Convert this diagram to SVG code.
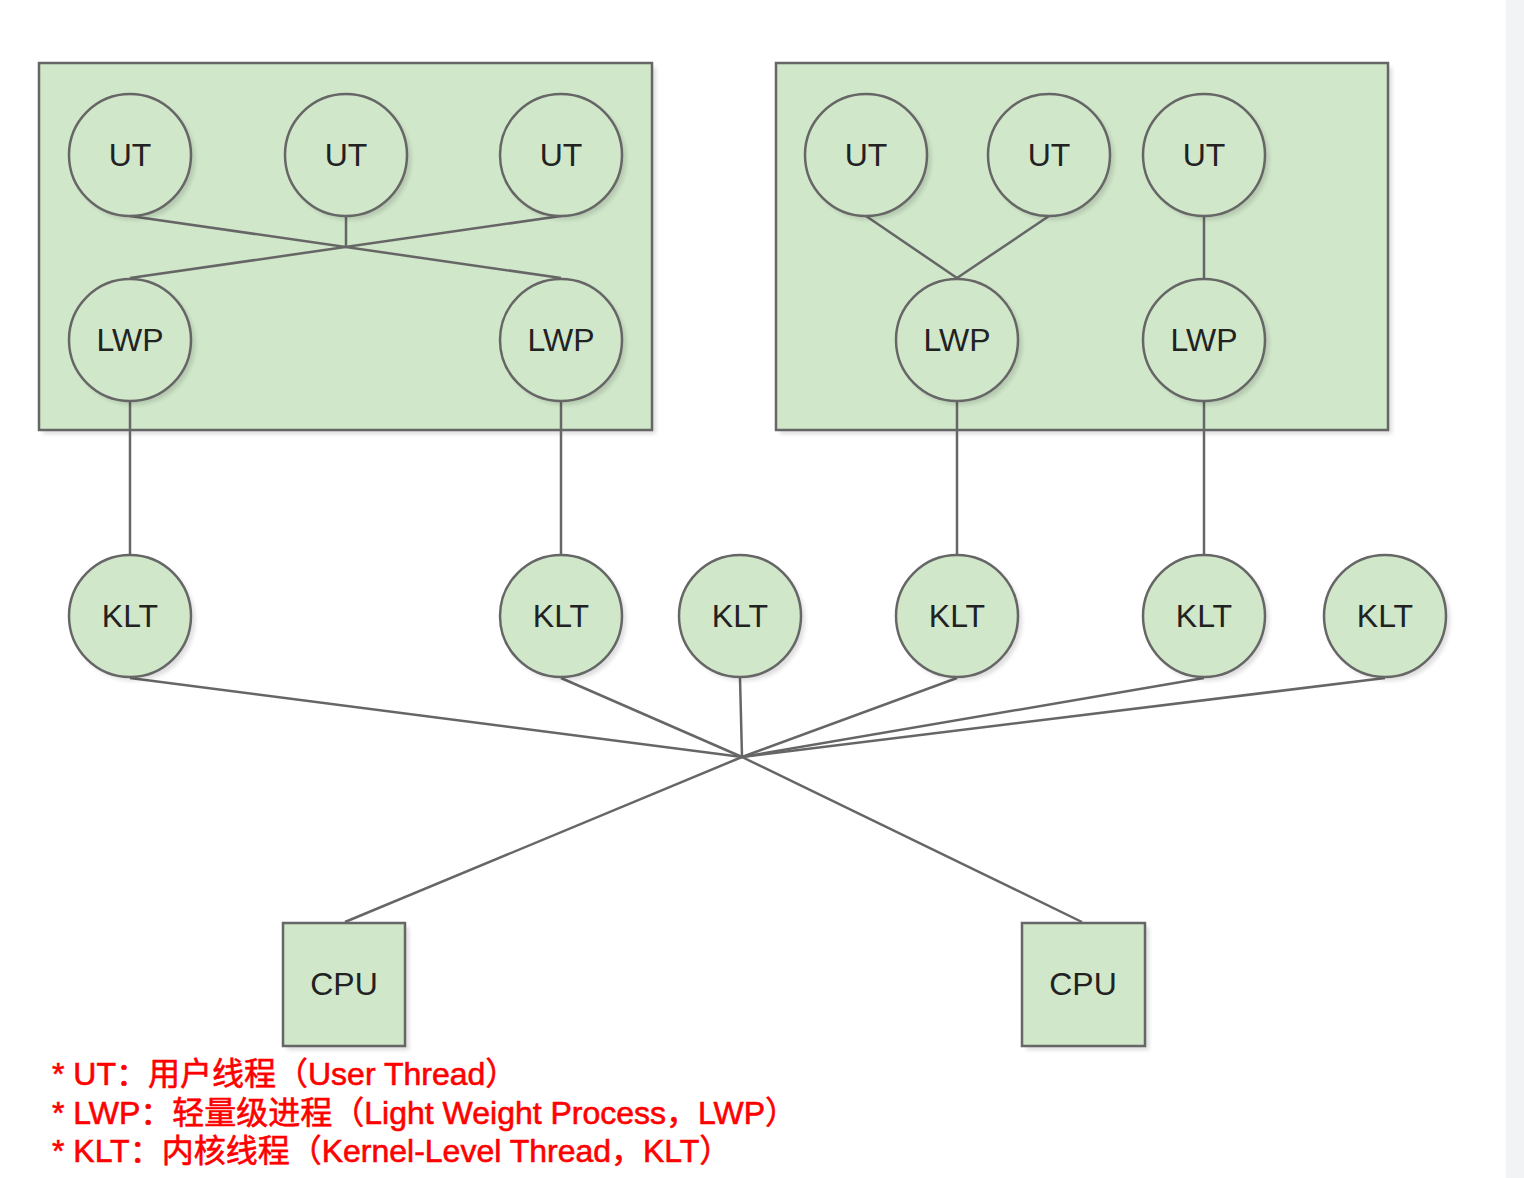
<svg xmlns="http://www.w3.org/2000/svg" width="1524" height="1178" viewBox="0 0 1524 1178">
<defs>
<style>
.shape{fill:#d0e7ca;stroke:#666;stroke-width:2.5}
.sh{fill:#000;opacity:0.13;filter:url(#blur)}
.lbl{font-family:"Liberation Sans",Arial,sans-serif;font-size:32px;fill:#222;text-anchor:middle}
.conn line{stroke:#666;stroke-width:2.5;fill:none}
.legend{font-family:"Liberation Sans","Noto Sans CJK SC",sans-serif;font-size:32px;fill:#ff0000;stroke:#ff0000;stroke-width:0.6}
</style>
<filter id="blur" x="-20%" y="-20%" width="140%" height="140%"><feGaussianBlur stdDeviation="2"/></filter>
</defs>
<rect x="0" y="0" width="1524" height="1178" fill="#fff"/>
<rect x="1506" y="0" width="18" height="1178" fill="#f2f3f5"/>

<g id="process1">
<rect class="sh" x="43" y="67" width="613" height="367"/>
<rect class="shape" x="39" y="63" width="613" height="367"/>
</g>
<g id="process2">
<rect class="sh" x="780" y="67" width="612" height="367"/>
<rect class="shape" x="776" y="63" width="612" height="367"/>
</g>

<g class="conn" id="connectors">
<line x1="130" y1="216" x2="561" y2="278"/>
<line x1="561" y1="216" x2="130" y2="278"/>
<line x1="346" y1="216" x2="346" y2="247"/>
<line x1="866" y1="216" x2="957" y2="278"/>
<line x1="1049" y1="216" x2="957" y2="278"/>
<line x1="1204" y1="216" x2="1204" y2="278"/>
<line x1="130" y1="402" x2="130" y2="554"/>
<line x1="561" y1="402" x2="561" y2="554"/>
<line x1="957" y1="402" x2="957" y2="554"/>
<line x1="1204" y1="402" x2="1204" y2="554"/>
<line x1="130" y1="678" x2="742" y2="757"/>
<line x1="561" y1="678" x2="742" y2="757"/>
<line x1="740" y1="678" x2="742" y2="757"/>
<line x1="957" y1="678" x2="742" y2="757"/>
<line x1="1204" y1="678" x2="742" y2="757"/>
<line x1="1385" y1="678" x2="742" y2="757"/>
<line x1="742" y1="757" x2="345" y2="922"/>
<line x1="742" y1="757" x2="1082" y2="922"/>
</g>

<g id="ut1"><circle class="sh" cx="134" cy="159" r="61"/><circle class="shape" cx="130" cy="155" r="61"/><text class="lbl" x="130" y="166">UT</text></g>
<g id="ut2"><circle class="sh" cx="350" cy="159" r="61"/><circle class="shape" cx="346" cy="155" r="61"/><text class="lbl" x="346" y="166">UT</text></g>
<g id="ut3"><circle class="sh" cx="565" cy="159" r="61"/><circle class="shape" cx="561" cy="155" r="61"/><text class="lbl" x="561" y="166">UT</text></g>
<g id="ut4"><circle class="sh" cx="870" cy="159" r="61"/><circle class="shape" cx="866" cy="155" r="61"/><text class="lbl" x="866" y="166">UT</text></g>
<g id="ut5"><circle class="sh" cx="1053" cy="159" r="61"/><circle class="shape" cx="1049" cy="155" r="61"/><text class="lbl" x="1049" y="166">UT</text></g>
<g id="ut6"><circle class="sh" cx="1208" cy="159" r="61"/><circle class="shape" cx="1204" cy="155" r="61"/><text class="lbl" x="1204" y="166">UT</text></g>

<g id="lwp1"><circle class="sh" cx="134" cy="344" r="61"/><circle class="shape" cx="130" cy="340" r="61"/><text class="lbl" x="130" y="351">LWP</text></g>
<g id="lwp2"><circle class="sh" cx="565" cy="344" r="61"/><circle class="shape" cx="561" cy="340" r="61"/><text class="lbl" x="561" y="351">LWP</text></g>
<g id="lwp3"><circle class="sh" cx="961" cy="344" r="61"/><circle class="shape" cx="957" cy="340" r="61"/><text class="lbl" x="957" y="351">LWP</text></g>
<g id="lwp4"><circle class="sh" cx="1208" cy="344" r="61"/><circle class="shape" cx="1204" cy="340" r="61"/><text class="lbl" x="1204" y="351">LWP</text></g>

<g id="klt1"><circle class="sh" cx="134" cy="620" r="61"/><circle class="shape" cx="130" cy="616" r="61"/><text class="lbl" x="130" y="627">KLT</text></g>
<g id="klt2"><circle class="sh" cx="565" cy="620" r="61"/><circle class="shape" cx="561" cy="616" r="61"/><text class="lbl" x="561" y="627">KLT</text></g>
<g id="klt3"><circle class="sh" cx="744" cy="620" r="61"/><circle class="shape" cx="740" cy="616" r="61"/><text class="lbl" x="740" y="627">KLT</text></g>
<g id="klt4"><circle class="sh" cx="961" cy="620" r="61"/><circle class="shape" cx="957" cy="616" r="61"/><text class="lbl" x="957" y="627">KLT</text></g>
<g id="klt5"><circle class="sh" cx="1208" cy="620" r="61"/><circle class="shape" cx="1204" cy="616" r="61"/><text class="lbl" x="1204" y="627">KLT</text></g>
<g id="klt6"><circle class="sh" cx="1389" cy="620" r="61"/><circle class="shape" cx="1385" cy="616" r="61"/><text class="lbl" x="1385" y="627">KLT</text></g>

<g id="cpu1"><rect class="sh" x="287" y="927" width="122" height="123"/><rect class="shape" x="283" y="923" width="122" height="123"/><text class="lbl" x="344" y="995">CPU</text></g>
<g id="cpu2"><rect class="sh" x="1026" y="927" width="123" height="123"/><rect class="shape" x="1022" y="923" width="123" height="123"/><text class="lbl" x="1083" y="995">CPU</text></g>

<g id="legend">
<text class="legend" x="52" y="1085">* UT：用户线程（User Thread）</text>
<text class="legend" x="52" y="1124">* LWP：轻量级进程（Light Weight Process，LWP）</text>
<text class="legend" x="52" y="1162">* KLT：内核线程（Kernel-Level Thread，KLT）</text>
</g>
</svg>
